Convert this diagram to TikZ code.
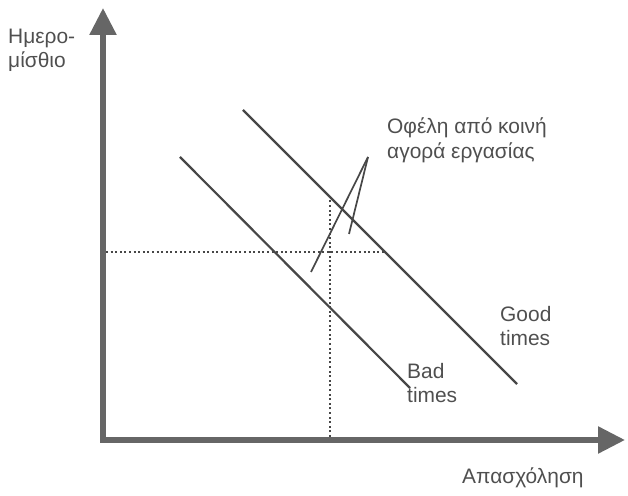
\documentclass[tikz,border=0pt]{standalone}
\usepackage{fontspec}
\setmainfont{Liberation Sans}
\usetikzlibrary{arrows.meta, positioning}
\definecolor{axisGrey}{HTML}{666666}
\definecolor{curveGrey}{HTML}{474747}
\definecolor{textGrey}{HTML}{4F4F4F}
\tikzset{
    axis_line/.style={
        draw=axisGrey, line width=5.5bp, line join=miter,
        {Triangle[width=26bp,length=27bp]}-{Triangle[width=26bp,length=27bp]}
    },
    demand_line/.style={draw=curveGrey, line width=2.2bp},
    guide_line/.style={draw=curveGrey, line width=2.4bp, dash pattern=on 2bp off 2.6bp},
    pointer_line/.style={draw=curveGrey, line width=1.7bp},
    lbl/.style={
        font=\fontsize{21}{24.5}\selectfont, text=textGrey,
        align=left, inner sep=0pt, anchor=north west
    }
}

\begin{document}
\begin{tikzpicture}[x=1bp, y=1bp]
    \useasboundingbox (0,0) rectangle (628,496);

    % Axes
    \coordinate (origin) at (103,56);
    \coordinate (ytip) at (103,488);
    \coordinate (xtip) at (625,56);
    \draw[axis_line] (ytip) -- (origin) -- (xtip);

    % Axis labels
    \node[lbl] (wage) at (8,467) {Ημερο-\\μίσθιο};
    \node[lbl] (empl) at (462,28) {Απασχόληση};

    % Labour demand lines (bad times / good times)
    \coordinate (bad_top) at (180,339);
    \coordinate (bad_end) at (410,108);
    \coordinate (good_top) at (243,386);
    \coordinate (good_end) at (517,112);
    \draw[demand_line] (bad_top) -- (bad_end);
    \draw[demand_line] (good_top) -- (good_end);

    % Dotted guides up to the good-times line
    \coordinate (w_left) at (106,244);
    \coordinate (w_good) at (385,244);
    \coordinate (n_low) at (330,59);
    \coordinate (n_good) at (330,298);
    \draw[guide_line] (w_left) -- (w_good);
    \draw[guide_line] (n_low) -- (n_good);

    % Gains label with its two pointers
    \node[lbl] (gain) at (387,378) {Οφέλη από κοινή\\αγορά εργασίας};
    \coordinate (gain_tip) at (368,339);
    \coordinate (gain_a) at (311,224);
    \coordinate (gain_b) at (349,262);
    \draw[pointer_line] (gain_tip) -- (gain_a);
    \draw[pointer_line] (gain_tip) -- (gain_b);

    % Curve labels
    \node[lbl] (good_lbl) at (500,190) {Good\\times};
    \node[lbl] (bad_lbl) at (407,133) {Bad\\times};
\end{tikzpicture}
\end{document}
